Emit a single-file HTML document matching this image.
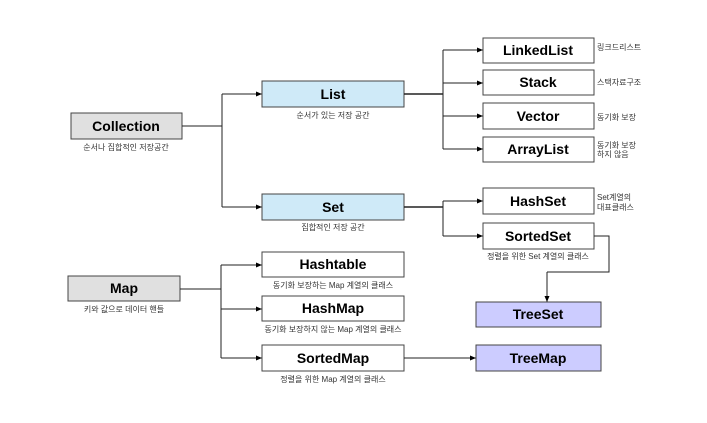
<!DOCTYPE html>
<html><head><meta charset="utf-8"><style>
html,body{margin:0;padding:0;background:#fff}
svg{display:block}
.b{font-family:"Liberation Sans","DejaVu Sans",sans-serif;font-weight:bold;font-size:14px;text-anchor:middle}
.s{font-family:"Liberation Sans","Noto Sans CJK KR",sans-serif;font-size:8px;fill:#333}
.c{text-anchor:middle}
rect{stroke:#444;stroke-width:1}
line,polyline{stroke:#222;stroke-width:1;fill:none}
</style></head><body>
<svg width="707" height="423" viewBox="0 0 707 423" xmlns="http://www.w3.org/2000/svg">
<defs><marker id="a" markerWidth="6" markerHeight="6" refX="6" refY="3" orient="auto" markerUnits="userSpaceOnUse"><path d="M0,0.5 L6,3 L0,5.5z" fill="#000"/></marker></defs>

<!-- Collection -->
<rect x="71" y="113" width="111" height="26" fill="#e0e0e0"/>
<text class="b" x="126" y="131">Collection</text>
<text class="s c" x="126" y="150">순서나 집합적인 저장공간</text>
<polyline points="182,126 222,126"/>
<polyline points="222,94 222,207"/>
<line x1="222" y1="94" x2="262" y2="94" marker-end="url(#a)"/>
<line x1="222" y1="207" x2="262" y2="207" marker-end="url(#a)"/>

<rect x="262" y="81" width="142" height="26" fill="#cfeaf8"/>
<text class="b" x="333" y="99">List</text>
<text class="s c" x="333" y="118">순서가 있는 저장 공간</text>
<rect x="262" y="194" width="142" height="26" fill="#cfeaf8"/>
<text class="b" x="333" y="212">Set</text>
<text class="s c" x="333" y="230">집합적인 저장 공간</text>

<line x1="404" y1="94" x2="443" y2="94" style="stroke-width:1.5"/>
<polyline points="443,50 443,149"/>
<line x1="443" y1="50" x2="483" y2="50" marker-end="url(#a)"/>
<line x1="443" y1="83" x2="483" y2="83" marker-end="url(#a)"/>
<line x1="443" y1="116" x2="483" y2="116" marker-end="url(#a)"/>
<line x1="443" y1="149" x2="483" y2="149" marker-end="url(#a)"/>

<rect x="483" y="38" width="111" height="25" fill="#fff"/>
<text class="b" x="538" y="55">LinkedList</text>
<text class="s" x="597" y="50">링크드리스트</text>
<rect x="483" y="70" width="111" height="25" fill="#fff"/>
<text class="b" x="538" y="87">Stack</text>
<text class="s" x="597" y="85">스택자료구조</text>
<rect x="483" y="103" width="111" height="26" fill="#fff"/>
<text class="b" x="538" y="121">Vector</text>
<text class="s" x="597" y="120">동기화 보장</text>
<rect x="483" y="137" width="111" height="25" fill="#fff"/>
<text class="b" x="538" y="154">ArrayList</text>
<text class="s" x="597" y="148">동기화 보장</text>
<text class="s" x="597" y="157">하지 않음</text>

<line x1="404" y1="207" x2="443" y2="207" style="stroke-width:1.5"/>
<polyline points="443,201 443,236"/>
<line x1="443" y1="201" x2="483" y2="201" marker-end="url(#a)"/>
<line x1="443" y1="236" x2="483" y2="236" marker-end="url(#a)"/>
<rect x="483" y="188" width="111" height="26" fill="#fff"/>
<text class="b" x="538" y="206">HashSet</text>
<text class="s" x="597" y="200">Set계열의</text>
<text class="s" x="597" y="210">대표클래스</text>
<rect x="483" y="223" width="111" height="26" fill="#fff"/>
<text class="b" x="538" y="241">SortedSet</text>
<text class="s c" x="538" y="259">정렬을 위한 Set 계열의 클래스</text>
<polyline points="594,236 609,236 609,272 547,272"/>
<line x1="547" y1="272" x2="547" y2="302" marker-end="url(#a)"/>
<rect x="476" y="302" width="125" height="25" fill="#ccccff"/>
<text class="b" x="538" y="319">TreeSet</text>

<!-- Map -->
<rect x="68" y="276" width="112" height="25" fill="#e0e0e0"/>
<text class="b" x="124" y="293">Map</text>
<text class="s c" x="124" y="312">키와 값으로 데이터 핸들</text>
<line x1="180" y1="289" x2="221" y2="289"/>
<polyline points="221,265 221,358"/>
<line x1="221" y1="265" x2="262" y2="265" marker-end="url(#a)"/>
<line x1="221" y1="309" x2="262" y2="309" marker-end="url(#a)"/>
<line x1="221" y1="358" x2="262" y2="358" marker-end="url(#a)"/>

<rect x="262" y="252" width="142" height="25" fill="#fff"/>
<text class="b" x="333" y="269">Hashtable</text>
<text class="s c" x="333" y="288">동기화 보장하는 Map 계열의 클래스</text>
<rect x="262" y="296" width="142" height="25" fill="#fff"/>
<text class="b" x="333" y="313">HashMap</text>
<text class="s c" x="333" y="332">동기화 보장하지 않는 Map 계열의 클래스</text>
<rect x="262" y="345" width="142" height="26" fill="#fff"/>
<text class="b" x="333" y="363">SortedMap</text>
<text class="s c" x="333" y="382">정렬을 위한 Map 계열의 클래스</text>
<line x1="404" y1="358" x2="476" y2="358" marker-end="url(#a)"/>
<rect x="476" y="345" width="125" height="26" fill="#ccccff"/>
<text class="b" x="538" y="363">TreeMap</text>
</svg>
</body></html>
